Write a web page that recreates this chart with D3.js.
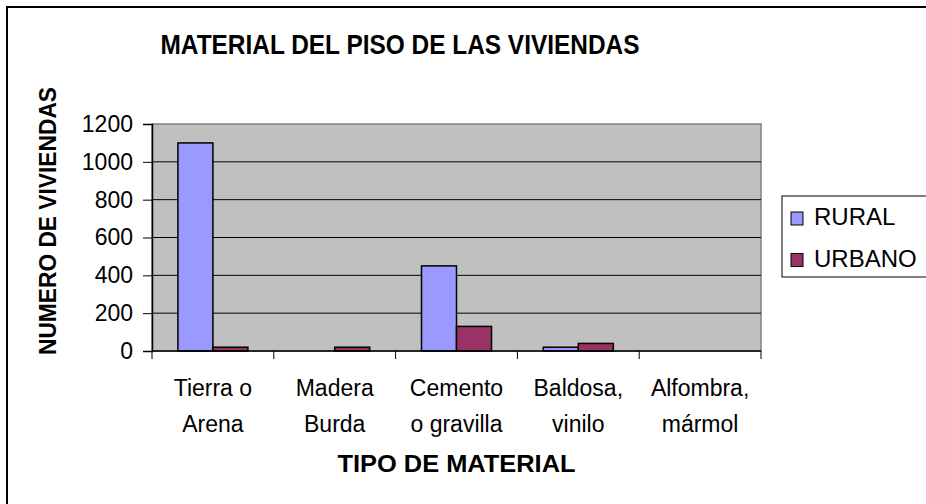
<!DOCTYPE html>
<html>
<head>
<meta charset="utf-8">
<script src="https://cdn.jsdelivr.net/npm/d3@7"></script>
<style>
	body { margin: 0; background: #fff; }
	svg { display: block; font-family: 'Liberation Sans', Arial, sans-serif; }
</style>
</head>
<body>
<div class="chart"></div>
<script>
// data
const categories = [['Tierra o', 'Arena'], ['Madera', 'Burda'], ['Cemento', 'o gravilla'], ['Baldosa,', 'vinilo'], ['Alfombra,', 'mármol']]
const series = ['RURAL', 'URBANO']
const rural = [1100, 0, 450, 20, 0]
const urbano = [20, 20, 130, 40, 0]
const yTicks = [0, 200, 400, 600, 800, 1000, 1200]
const colors = ['#9999FF', '#993366']

const width = 926
const height = 504
const plot = {left: 152, right: 761, top: 124, bottom: 351}

const svg = d3.select('.chart')
	.append('svg')
	.attr('width', width)
	.attr('height', height)

// outer frame (cut off at right and bottom)
svg.append('rect')
	.attr('x', 7).attr('y', 7)
	.attr('width', 940).attr('height', 520)
	.attr('fill', 'none')
	.attr('stroke', '#000')
	.attr('stroke-width', 2)

const x = d3.scaleBand()
	.domain(d3.range(categories.length))
	.range([plot.left, plot.right])
const xInner = d3.scaleBand()
	.domain(series)
	.range([0, x.bandwidth()])
	.paddingOuter(0.74)
const y = d3.scaleLinear()
	.domain([0, 1200])
	.range([plot.bottom, plot.top])

// plot area
svg.append('rect')
	.attr('x', plot.left).attr('y', plot.top)
	.attr('width', plot.right - plot.left)
	.attr('height', plot.bottom - plot.top)
	.attr('fill', '#C0C0C0')
	.attr('stroke', '#808080')
	.attr('stroke-width', 1.5)

// gridlines
svg.selectAll('line.grid')
	.data(yTicks.slice(1, -1))
	.enter()
	.append('line')
	.attr('x1', plot.left).attr('x2', plot.right)
	.attr('y1', d => y(d)).attr('y2', d => y(d))
	.attr('stroke', '#000')
	.attr('stroke-width', 1)

// bars
const data = []
categories.forEach((c, i) => {
	data.push({i: i, s: 'RURAL', v: rural[i], c: colors[0]})
	data.push({i: i, s: 'URBANO', v: urbano[i], c: colors[1]})
})
svg.selectAll('rect.bar')
	.data(data.filter(d => d.v > 0))
	.enter()
	.append('rect')
	.attr('x', d => x(d.i) + xInner(d.s))
	.attr('y', d => y(d.v))
	.attr('width', xInner.bandwidth())
	.attr('height', d => y(0) - y(d.v))
	.attr('fill', d => d.c)
	.attr('stroke', '#000')
	.attr('stroke-width', 1.5)

// y axis
const yAxis = svg.append('g')
	.attr('transform', `translate(${plot.left},0)`)
	.call(d3.axisLeft(y).tickValues(yTicks).tickFormat(d3.format('d')).tickSize(9).tickPadding(10))
yAxis.select('.domain').attr('stroke', '#000').attr('stroke-width', 1.5)
yAxis.selectAll('text').attr('font-size', '23px').attr('fill', '#000').attr('font-family', 'Liberation Sans, Arial, sans-serif')

// x axis with ticks at category boundaries
svg.append('line')
	.attr('x1', plot.left).attr('x2', plot.right)
	.attr('y1', plot.bottom).attr('y2', plot.bottom)
	.attr('stroke', '#000').attr('stroke-width', 1.5)
svg.selectAll('line.xtick')
	.data(d3.range(categories.length + 1))
	.enter()
	.append('line')
	.attr('x1', d => plot.left + d * x.step())
	.attr('x2', d => plot.left + d * x.step())
	.attr('y1', plot.bottom).attr('y2', plot.bottom + 8)
	.attr('stroke', '#000').attr('stroke-width', 1)

// category labels
const catLabels = svg.selectAll('text.cat')
	.data(categories)
	.enter()
	.append('text')
	.attr('text-anchor', 'middle')
	.attr('font-size', '23px')
	.attr('fill', '#000')
catLabels.each(function(d, i) {
	d3.select(this).selectAll('tspan')
		.data(d)
		.enter()
		.append('tspan')
		.attr('x', x(i) + x.bandwidth() / 2)
		.attr('y', (t, j) => 396 + j * 36)
		.text(t => t)
})

// titles
svg.append('text')
	.attr('x', 400).attr('y', 54)
	.attr('text-anchor', 'middle')
	.attr('font-size', '28px')
	.attr('font-weight', 'bold')
	.attr('textLength', 479)
	.attr('lengthAdjust', 'spacingAndGlyphs')
	.text('MATERIAL DEL PISO DE LAS VIVIENDAS')

svg.append('text')
	.attr('x', (plot.left + plot.right) / 2).attr('y', 472)
	.attr('text-anchor', 'middle')
	.attr('font-size', '23px')
	.attr('font-weight', 'bold')
	.attr('textLength', 238)
	.attr('lengthAdjust', 'spacingAndGlyphs')
	.text('TIPO DE MATERIAL')

svg.append('text')
	.attr('transform', 'translate(56,221) rotate(-90)')
	.attr('text-anchor', 'middle')
	.attr('font-size', '23px')
	.attr('font-weight', 'bold')
	.attr('textLength', 268)
	.attr('lengthAdjust', 'spacingAndGlyphs')
	.text('NUMERO DE VIVIENDAS')

// legend
const legend = svg.append('g').attr('transform', 'translate(782,196)')
legend.append('rect')
	.attr('width', 145).attr('height', 81)
	.attr('fill', '#fff')
	.attr('stroke', '#000')
	.attr('stroke-width', 1)
series.forEach((s, i) => {
	legend.append('rect')
		.attr('x', 9).attr('y', 16 + i * 41.5)
		.attr('width', 12).attr('height', 13)
		.attr('fill', colors[i])
		.attr('stroke', '#000')
		.attr('stroke-width', 1)
	legend.append('text')
		.attr('x', 32).attr('y', 29 + i * 41.5)
		.attr('font-size', '24px')
		.text(s)
})
</script>
</body>
</html>
